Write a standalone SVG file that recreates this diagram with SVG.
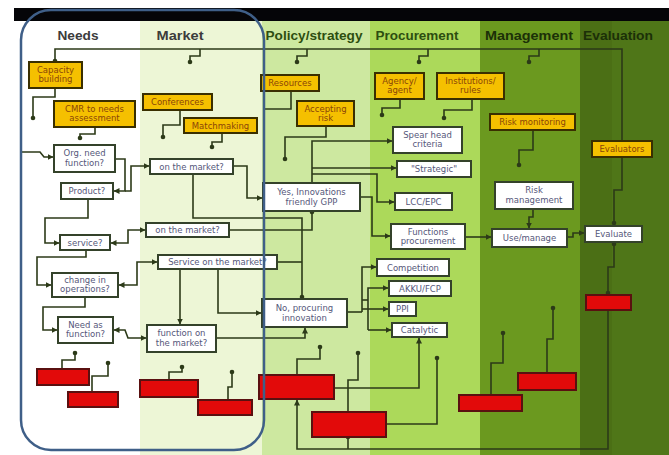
<svg xmlns="http://www.w3.org/2000/svg" width="669" height="455" viewBox="0 0 669 455">
<style>
.hd{font-family:"Liberation Sans",Arial,sans-serif;font-size:13.5px;font-weight:bold;text-anchor:middle}
.y rect{fill:#f5c000;stroke:#3a2f00;stroke-width:2}
.w rect{fill:#ffffff;stroke:#34422a;stroke-width:2}
.r rect{fill:#e20a0a;stroke:#5a1010;stroke-width:2}
.y text{font-family:"DejaVu Sans",Verdana,sans-serif;font-size:8.5px;fill:#8a4508;text-anchor:middle}
.w text{font-family:"DejaVu Sans",Verdana,sans-serif;font-size:8.5px;fill:#55577a;text-anchor:middle}
.c path{fill:none;stroke:#2c3a18;stroke-width:1.6}
.c circle{fill:#2c3a18}
.a{marker-end:url(#ar)}
.b{marker-start:url(#ar);marker-end:url(#ar)}
</style>
<defs>
<marker id="ar" viewBox="0 0 6 6" refX="5.5" refY="3" markerWidth="6" markerHeight="6" markerUnits="userSpaceOnUse" orient="auto-start-reverse">
<path d="M0,0 L6,3 L0,6 z" fill="#2c3a18"/>
</marker>
</defs>
<g id="background">
<rect x="0" y="0" width="669" height="455" fill="#ffffff"/>
<rect x="140" y="20" width="122" height="435" fill="#edf6d6"/>
<rect x="262" y="20" width="108" height="435" fill="#cde8a0"/>
<rect x="370" y="20" width="110" height="435" fill="#acd95a"/>
<rect x="480" y="20" width="100" height="435" fill="#6b991f"/>
<rect x="580" y="20" width="32" height="435" fill="#4b6f15"/>
<rect x="612" y="20" width="57" height="435" fill="#4f7618"/>
<rect x="14" y="8" width="655" height="13" fill="#050508"/>
</g>
<g id="headers">
<text class="hd" x="78" y="40" fill="#3c3c3c" textLength="41" lengthAdjust="spacingAndGlyphs">Needs</text>
<text class="hd" x="180" y="40" fill="#3c3c3c" textLength="47" lengthAdjust="spacingAndGlyphs">Market</text>
<text class="hd" x="314" y="40" fill="#2d4e10" textLength="97" lengthAdjust="spacingAndGlyphs">Policy/strategy</text>
<text class="hd" x="417" y="40" fill="#2d4e10" textLength="83" lengthAdjust="spacingAndGlyphs">Procurement</text>
<text class="hd" x="529" y="40" fill="#1c3008" textLength="88" lengthAdjust="spacingAndGlyphs">Management</text>
<text class="hd" x="618" y="40" fill="#1c3008" textLength="70" lengthAdjust="spacingAndGlyphs">Evaluation</text>
</g>
<g id="connectors" class="c">
<path d="M55,62 V49 H622 V141"/>
<path d="M200,49 V56 H190 V62"/>
<path d="M307,49 V56 H297 V62"/>
<path d="M428,49 V56 H419 V62"/>
<path d="M539,49 V56 H529 V62"/>
<path d="M55,88 V97 H33 V118"/>
<path d="M95,127 V134 H80 V138"/>
<path d="M180,110 V125 H163 V137"/>
<path d="M222,133 V142 H212 V147"/>
<path d="M291,91 V109 H265"/>
<path d="M326,126 V137 H285 V159"/>
<path d="M400,99 V108 H382 V115"/>
<path d="M472,99 V110 H444 V118"/>
<path d="M533,130 V150 H519 V165"/>
<path d="M622,157 V190 H614 V226"/>
<path d="M614,242 V267 H608 V295"/>
<path class="a" d="M608,310 V449 H297 V400"/>
<path d="M348,449 V437"/>
<path d="M62,369 V360 H75 V353"/>
<path d="M92,392 V376 H108 V363"/>
<path d="M169,380 V372 H182 V367"/>
<path d="M228,400 V387 H232 V372"/>
<path d="M297,375 V359 H320 V347"/>
<path d="M348,412 V380 H358 V353"/>
<path d="M491,395 V363 H503 V333"/>
<path d="M547,373 V339 H553 V308"/>
<path class="a" d="M334,388 H419 V338"/>
<path d="M386,424 H437 V358"/>
<path class="a" d="M22,152 H40 L44,157 H53"/>
<path class="a" d="M115,159 H125 V191 H114"/>
<path class="a" d="M125,191 H131 V166 H149"/>
<path class="a" d="M88,199 V218 H45 V243 H59"/>
<path class="b" d="M145,230 H128 V243 H111"/>
<path class="a" d="M86,250 V257 H37 V285 H51"/>
<path class="b" d="M157,262 H137 V285 H119"/>
<path class="a" d="M85,297 V307 H43 V330 H57"/>
<path class="b" d="M146,338 H128 L125,330 H114"/>
<path class="a" d="M233,166 H247 V198 H262"/>
<path d="M193,174 V218 H302 V298"/>
<path d="M229,230 H312 V212"/>
<path d="M277,262 H302"/>
<path class="a" d="M218,269 V313 H261"/>
<path class="a" d="M180,269 V324"/>
<path class="a" d="M216,338 H305 V328"/>
<path class="a" d="M312,183 V141 H392"/>
<path class="a" d="M312,168 H396"/>
<path class="a" d="M312,174 H377 V202 H394"/>
<path class="a" d="M360,197 H372 V236 H390"/>
<path d="M347,312 H362"/>
<path class="a" d="M362,312 V267 H376"/>
<path class="a" d="M362,309 H388"/>
<path d="M362,300 H368"/>
<path class="a" d="M368,330 V288 H388"/>
<path class="a" d="M368,330 H391"/>
<path class="a" d="M465,237 H491"/>
<path class="a" d="M533,209 V217 H529 V228"/>
<path class="a" d="M567,237 H573 V233 H584"/>
<circle cx="55" cy="61" r="2.3"/>
<circle cx="190" cy="62" r="2.3"/>
<circle cx="297" cy="62" r="2.3"/>
<circle cx="419" cy="62" r="2.3"/>
<circle cx="529" cy="62" r="2.3"/>
<circle cx="33" cy="118" r="2.3"/>
<circle cx="80" cy="138" r="2.3"/>
<circle cx="163" cy="137" r="2.3"/>
<circle cx="212" cy="147" r="2.3"/>
<circle cx="285" cy="159" r="2.3"/>
<circle cx="382" cy="115" r="2.3"/>
<circle cx="444" cy="118" r="2.3"/>
<circle cx="519" cy="165" r="2.3"/>
<circle cx="614" cy="223" r="2.3"/>
<circle cx="614" cy="244" r="2.3"/>
<circle cx="608" cy="293" r="2.3"/>
<circle cx="348" cy="437" r="2.3"/>
<circle cx="75" cy="353" r="2.3"/>
<circle cx="108" cy="363" r="2.3"/>
<circle cx="182" cy="367" r="2.3"/>
<circle cx="232" cy="372" r="2.3"/>
<circle cx="320" cy="347" r="2.3"/>
<circle cx="358" cy="353" r="2.3"/>
<circle cx="503" cy="333" r="2.3"/>
<circle cx="553" cy="308" r="2.3"/>
<circle cx="437" cy="358" r="2.3"/>
<circle cx="302" cy="297" r="2.3"/>
<circle cx="312" cy="212" r="2.3"/>
</g>
<g id="n-capacity" class="y"><rect x="29" y="62" width="53" height="26"/><text x="55.5" y="73">Capacity</text><text x="55.5" y="82">building</text></g>
<g id="n-cmr" class="y"><rect x="54" y="101" width="81" height="26"/><text x="94.5" y="112">CMR to needs</text><text x="94.5" y="121">assessment</text></g>
<g id="n-conferences" class="y"><rect x="143" y="94" width="69" height="16"/><text x="177.5" y="105">Conferences</text></g>
<g id="n-matchmaking" class="y"><rect x="184" y="118" width="73" height="15"/><text x="220.5" y="128.5">Matchmaking</text></g>
<g id="n-resources" class="y"><rect x="261" y="75" width="58" height="16"/><text x="290" y="86">Resources</text></g>
<g id="n-accepting" class="y"><rect x="297" y="101" width="57" height="25"/><text x="325.5" y="112">Accepting</text><text x="325.5" y="121">risk</text></g>
<g id="n-agency" class="y"><rect x="375" y="73" width="49" height="26"/><text x="399.5" y="84">Agency/</text><text x="399.5" y="93">agent</text></g>
<g id="n-institutions" class="y"><rect x="437" y="73" width="67" height="26"/><text x="470.5" y="84">Institutions/</text><text x="470.5" y="93">rules</text></g>
<g id="n-riskmon" class="y"><rect x="490" y="114" width="85" height="16"/><text x="532.5" y="125">Risk monitoring</text></g>
<g id="n-evaluators" class="y"><rect x="592" y="141" width="60" height="16"/><text x="622" y="152">Evaluators</text></g>
<g id="n-orgneed" class="w"><rect x="54" y="145" width="61" height="27"/><text x="84.5" y="156">Org. need</text><text x="84.5" y="165.5">function?</text></g>
<g id="n-product" class="w"><rect x="61" y="183" width="52" height="16"/><text x="87" y="194">Product?</text></g>
<g id="n-service" class="w"><rect x="60" y="235" width="50" height="15"/><text x="85" y="245.5">service?</text></g>
<g id="n-change" class="w"><rect x="52" y="273" width="66" height="24"/><text x="85" y="283">change in</text><text x="85" y="292">operations?</text></g>
<g id="n-needfunc" class="w"><rect x="58" y="317" width="55" height="26"/><text x="85.5" y="328">Need as</text><text x="85.5" y="337">function?</text></g>
<g id="n-market1" class="w"><rect x="150" y="159" width="83" height="15"/><text x="191.5" y="169.5">on the market?</text></g>
<g id="n-market2" class="w"><rect x="146" y="223" width="83" height="14"/><text x="187.5" y="233">on the market?</text></g>
<g id="n-servmarket" class="w"><rect x="158" y="255" width="119" height="14"/><text x="217.5" y="265">Service on the market?</text></g>
<g id="n-funcmarket" class="w"><rect x="147" y="325" width="69" height="27"/><text x="181.5" y="336">function on</text><text x="181.5" y="345.5">the market?</text></g>
<g id="n-yes" class="w"><rect x="263" y="183" width="97" height="28"/><text x="311.5" y="195">Yes, Innovations</text><text x="311.5" y="204.5">friendly GPP</text></g>
<g id="n-no" class="w"><rect x="262" y="299" width="85" height="28"/><text x="304.5" y="311">No, procuring</text><text x="304.5" y="320.5">innovation</text></g>
<g id="n-spear" class="w"><rect x="393" y="127" width="69" height="26"/><text x="427.5" y="138">Spear head</text><text x="427.5" y="147">criteria</text></g>
<g id="n-strategic" class="w"><rect x="397" y="161" width="74" height="16"/><text x="434" y="172">"Strategic"</text></g>
<g id="n-lcc" class="w"><rect x="395" y="193" width="57" height="17"/><text x="423.5" y="204.5">LCC/EPC</text></g>
<g id="n-functions" class="w"><rect x="391" y="224" width="74" height="25"/><text x="428" y="235">Functions</text><text x="428" y="244">procurement</text></g>
<g id="n-competition" class="w"><rect x="377" y="259" width="72" height="17"/><text x="413" y="270.5">Competition</text></g>
<g id="n-akku" class="w"><rect x="389" y="281" width="62" height="15"/><text x="420" y="291.5">AKKU/FCP</text></g>
<g id="n-ppi" class="w"><rect x="389" y="302" width="27" height="14"/><text x="402.5" y="312">PPI</text></g>
<g id="n-catalytic" class="w"><rect x="392" y="323" width="55" height="14"/><text x="419.5" y="333">Catalytic</text></g>
<g id="n-riskmgmt" class="w"><rect x="495" y="182" width="78" height="27"/><text x="534" y="193">Risk</text><text x="534" y="202.5">management</text></g>
<g id="n-usemanage" class="w"><rect x="492" y="229" width="75" height="18"/><text x="529.5" y="241">Use/manage</text></g>
<g id="n-evaluate" class="w"><rect x="585" y="226" width="57" height="16"/><text x="613.5" y="237">Evaluate</text></g>
<g id="n-r1" class="r"><rect x="37" y="369" width="52" height="16"/></g>
<g id="n-r2" class="r"><rect x="68" y="392" width="50" height="15"/></g>
<g id="n-r3" class="r"><rect x="140" y="380" width="58" height="17"/></g>
<g id="n-r4" class="r"><rect x="198" y="400" width="54" height="15"/></g>
<g id="n-r5" class="r"><rect x="259" y="375" width="75" height="24"/></g>
<g id="n-r6" class="r"><rect x="312" y="412" width="74" height="25"/></g>
<g id="n-r7" class="r"><rect x="459" y="395" width="63" height="16"/></g>
<g id="n-r8" class="r"><rect x="518" y="373" width="58" height="17"/></g>
<g id="n-r9" class="r"><rect x="586" y="295" width="45" height="15"/></g>
<g id="frame"><rect x="21" y="10" width="243" height="440" rx="30" ry="30" fill="none" stroke="#3f5f88" stroke-width="2.5"/></g>
</svg>
